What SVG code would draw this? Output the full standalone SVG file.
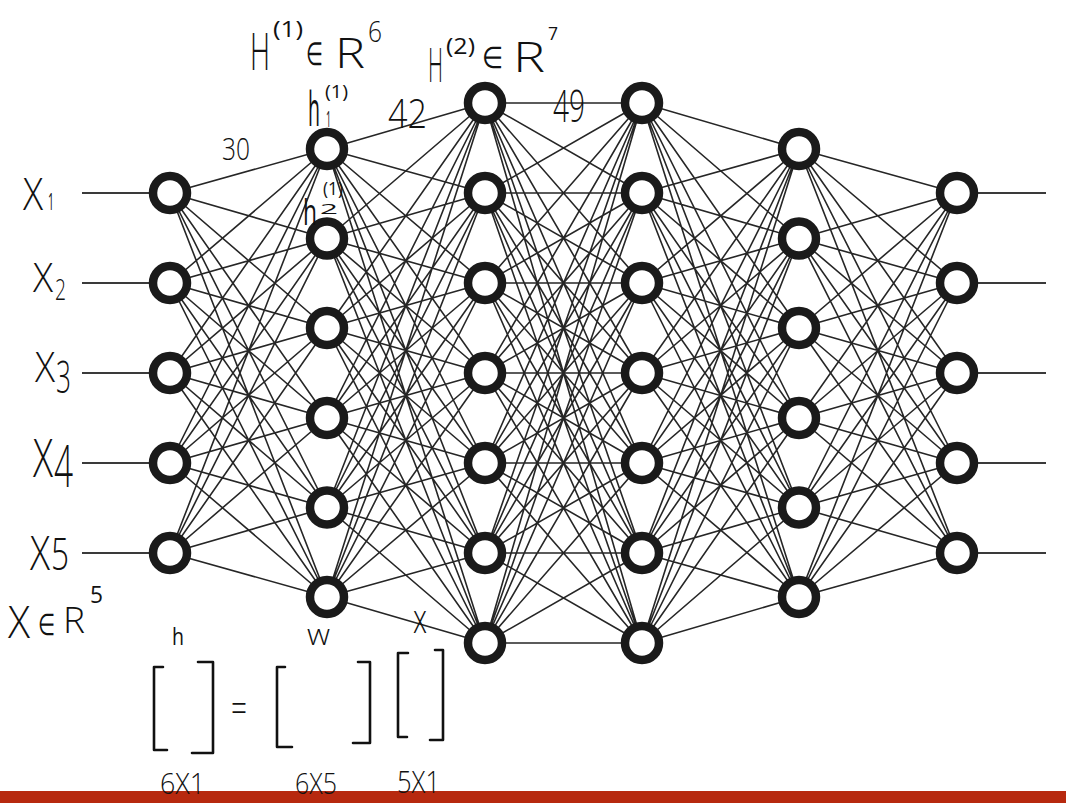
<svg xmlns="http://www.w3.org/2000/svg" width="1066" height="803" viewBox="0 0 1066 803">
<style>
.edge{stroke:#262626;stroke-width:1.6;fill:none}
.io{stroke:#3a3a3a;stroke-width:2;fill:none}
.node{fill:#fff;stroke:#1a1a1a;stroke-width:8.5}
.hw{font-family:"Open Sans","Liberation Sans","DejaVu Sans",sans-serif;font-weight:300;fill:#111}
.sm{font-weight:400}
.br{fill:none;stroke:#111;stroke-width:2.6;stroke-linecap:round;stroke-linejoin:round}
</style>
<rect x="0" y="0" width="1066" height="803" fill="#fff"/>
<g id="connectors">
<path class="io" d="M82 193H170M82 283H170M82 373H170M82 463H170M82 553H170M957 193H1046M957 283H1046M957 373H1046M957 463H1046M957 553H1046"/>
<path class="edge" d="M170 193L327 149M170 193L327 238.5M170 193L327 328M170 193L327 418M170 193L327 507.5M170 193L327 597M170 283L327 149M170 283L327 238.5M170 283L327 328M170 283L327 418M170 283L327 507.5M170 283L327 597M170 373L327 149M170 373L327 238.5M170 373L327 328M170 373L327 418M170 373L327 507.5M170 373L327 597M170 463L327 149M170 463L327 238.5M170 463L327 328M170 463L327 418M170 463L327 507.5M170 463L327 597M170 553L327 149M170 553L327 238.5M170 553L327 328M170 553L327 418M170 553L327 507.5M170 553L327 597"/>
<path class="edge" d="M327 149L485 103M327 149L485 193M327 149L485 283M327 149L485 373M327 149L485 463M327 149L485 553M327 149L485 643M327 238.5L485 103M327 238.5L485 193M327 238.5L485 283M327 238.5L485 373M327 238.5L485 463M327 238.5L485 553M327 238.5L485 643M327 328L485 103M327 328L485 193M327 328L485 283M327 328L485 373M327 328L485 463M327 328L485 553M327 328L485 643M327 418L485 103M327 418L485 193M327 418L485 283M327 418L485 373M327 418L485 463M327 418L485 553M327 418L485 643M327 507.5L485 103M327 507.5L485 193M327 507.5L485 283M327 507.5L485 373M327 507.5L485 463M327 507.5L485 553M327 507.5L485 643M327 597L485 103M327 597L485 193M327 597L485 283M327 597L485 373M327 597L485 463M327 597L485 553M327 597L485 643"/>
<path class="edge" d="M485 103L642 103M485 103L642 193M485 103L642 283M485 103L642 373M485 103L642 463M485 103L642 553M485 103L642 643M485 193L642 103M485 193L642 193M485 193L642 283M485 193L642 373M485 193L642 463M485 193L642 553M485 193L642 643M485 283L642 103M485 283L642 193M485 283L642 283M485 283L642 373M485 283L642 463M485 283L642 553M485 283L642 643M485 373L642 103M485 373L642 193M485 373L642 283M485 373L642 373M485 373L642 463M485 373L642 553M485 373L642 643M485 463L642 103M485 463L642 193M485 463L642 283M485 463L642 373M485 463L642 463M485 463L642 553M485 463L642 643M485 553L642 103M485 553L642 193M485 553L642 283M485 553L642 373M485 553L642 463M485 553L642 553M485 553L642 643M485 643L642 103M485 643L642 193M485 643L642 283M485 643L642 373M485 643L642 463M485 643L642 553M485 643L642 643"/>
<path class="edge" d="M642 103L799 149M642 103L799 238.5M642 103L799 328M642 103L799 418M642 103L799 507.5M642 103L799 597M642 193L799 149M642 193L799 238.5M642 193L799 328M642 193L799 418M642 193L799 507.5M642 193L799 597M642 283L799 149M642 283L799 238.5M642 283L799 328M642 283L799 418M642 283L799 507.5M642 283L799 597M642 373L799 149M642 373L799 238.5M642 373L799 328M642 373L799 418M642 373L799 507.5M642 373L799 597M642 463L799 149M642 463L799 238.5M642 463L799 328M642 463L799 418M642 463L799 507.5M642 463L799 597M642 553L799 149M642 553L799 238.5M642 553L799 328M642 553L799 418M642 553L799 507.5M642 553L799 597M642 643L799 149M642 643L799 238.5M642 643L799 328M642 643L799 418M642 643L799 507.5M642 643L799 597"/>
<path class="edge" d="M799 149L957 193M799 149L957 283M799 149L957 373M799 149L957 463M799 149L957 553M799 238.5L957 193M799 238.5L957 283M799 238.5L957 373M799 238.5L957 463M799 238.5L957 553M799 328L957 193M799 328L957 283M799 328L957 373M799 328L957 463M799 328L957 553M799 418L957 193M799 418L957 283M799 418L957 373M799 418L957 463M799 418L957 553M799 507.5L957 193M799 507.5L957 283M799 507.5L957 373M799 507.5L957 463M799 507.5L957 553M799 597L957 193M799 597L957 283M799 597L957 373M799 597L957 463M799 597L957 553"/>
</g>
<g id="layer1">
<circle id="n1_1" class="node" cx="170" cy="193" r="17"/>
<circle id="n1_2" class="node" cx="170" cy="283" r="17"/>
<circle id="n1_3" class="node" cx="170" cy="373" r="17"/>
<circle id="n1_4" class="node" cx="170" cy="463" r="17"/>
<circle id="n1_5" class="node" cx="170" cy="553" r="17"/>
</g>
<g id="layer2">
<circle id="n2_1" class="node" cx="327" cy="149" r="17"/>
<circle id="n2_2" class="node" cx="327" cy="238.5" r="17"/>
<circle id="n2_3" class="node" cx="327" cy="328" r="17"/>
<circle id="n2_4" class="node" cx="327" cy="418" r="17"/>
<circle id="n2_5" class="node" cx="327" cy="507.5" r="17"/>
<circle id="n2_6" class="node" cx="327" cy="597" r="17"/>
</g>
<g id="layer3">
<circle id="n3_1" class="node" cx="485" cy="103" r="17"/>
<circle id="n3_2" class="node" cx="485" cy="193" r="17"/>
<circle id="n3_3" class="node" cx="485" cy="283" r="17"/>
<circle id="n3_4" class="node" cx="485" cy="373" r="17"/>
<circle id="n3_5" class="node" cx="485" cy="463" r="17"/>
<circle id="n3_6" class="node" cx="485" cy="553" r="17"/>
<circle id="n3_7" class="node" cx="485" cy="643" r="17"/>
</g>
<g id="layer4">
<circle id="n4_1" class="node" cx="642" cy="103" r="17"/>
<circle id="n4_2" class="node" cx="642" cy="193" r="17"/>
<circle id="n4_3" class="node" cx="642" cy="283" r="17"/>
<circle id="n4_4" class="node" cx="642" cy="373" r="17"/>
<circle id="n4_5" class="node" cx="642" cy="463" r="17"/>
<circle id="n4_6" class="node" cx="642" cy="553" r="17"/>
<circle id="n4_7" class="node" cx="642" cy="643" r="17"/>
</g>
<g id="layer5">
<circle id="n5_1" class="node" cx="799" cy="149" r="17"/>
<circle id="n5_2" class="node" cx="799" cy="238.5" r="17"/>
<circle id="n5_3" class="node" cx="799" cy="328" r="17"/>
<circle id="n5_4" class="node" cx="799" cy="418" r="17"/>
<circle id="n5_5" class="node" cx="799" cy="507.5" r="17"/>
<circle id="n5_6" class="node" cx="799" cy="597" r="17"/>
</g>
<g id="layer6">
<circle id="n6_1" class="node" cx="957" cy="193" r="17"/>
<circle id="n6_2" class="node" cx="957" cy="283" r="17"/>
<circle id="n6_3" class="node" cx="957" cy="373" r="17"/>
<circle id="n6_4" class="node" cx="957" cy="463" r="17"/>
<circle id="n6_5" class="node" cx="957" cy="553" r="17"/>
</g>
<rect id="footer-bar" x="0" y="791" width="1066" height="12" fill="#b7290f"/>
<g id="input-labels">
<text class="hw"><tspan x="23" y="210" font-size="44" textLength="20" lengthAdjust="spacingAndGlyphs">X</tspan><tspan class="sm" x="48" y="210" font-size="24" textLength="6" lengthAdjust="spacingAndGlyphs">1</tspan></text>
<text class="hw"><tspan x="33" y="292" font-size="40" textLength="20" lengthAdjust="spacingAndGlyphs">X</tspan><tspan x="55" y="300" font-size="30" textLength="11" lengthAdjust="spacingAndGlyphs">2</tspan></text>
<text class="hw"><tspan x="35" y="382" font-size="42" textLength="20" lengthAdjust="spacingAndGlyphs">X</tspan><tspan x="56" y="393" font-size="44" textLength="15" lengthAdjust="spacingAndGlyphs">3</tspan></text>
<text class="hw"><tspan x="33" y="477" font-size="54" textLength="20" lengthAdjust="spacingAndGlyphs">X</tspan><tspan x="54" y="487" font-size="58" textLength="19" lengthAdjust="spacingAndGlyphs">4</tspan></text>
<text class="hw"><tspan x="30" y="570" font-size="48" textLength="20" lengthAdjust="spacingAndGlyphs">X</tspan><tspan x="51" y="570" font-size="44" textLength="18" lengthAdjust="spacingAndGlyphs">5</tspan></text>
</g>
<g id="x-space-label">
<text class="hw"><tspan x="8" y="638" font-size="44" textLength="22" lengthAdjust="spacingAndGlyphs">X</tspan><tspan x="38" y="635" font-size="30" textLength="17" lengthAdjust="spacingAndGlyphs">∈</tspan><tspan x="63" y="633" font-size="36" textLength="22" lengthAdjust="spacingAndGlyphs">R</tspan><tspan class="sm" x="90" y="603" font-size="24" textLength="13" lengthAdjust="spacingAndGlyphs">5</tspan></text>
</g>
<g id="h1-space-label">
<text class="hw"><tspan x="250" y="70" font-size="52" textLength="20" lengthAdjust="spacingAndGlyphs">H</tspan><tspan class="sm" x="273" y="37" font-size="22" textLength="30" lengthAdjust="spacingAndGlyphs">(1)</tspan><tspan x="306" y="65" font-size="32" textLength="17" lengthAdjust="spacingAndGlyphs">∈</tspan><tspan x="335" y="68" font-size="42" textLength="30" lengthAdjust="spacingAndGlyphs">R</tspan><tspan x="368" y="42" font-size="30" textLength="14" lengthAdjust="spacingAndGlyphs">6</tspan></text>
</g>
<g id="h2-space-label">
<text class="hw"><tspan x="428" y="82" font-size="48" textLength="15" lengthAdjust="spacingAndGlyphs">H</tspan><tspan class="sm" x="446" y="54" font-size="22" textLength="29" lengthAdjust="spacingAndGlyphs">(2)</tspan><tspan x="482" y="68" font-size="30" textLength="21" lengthAdjust="spacingAndGlyphs">∈</tspan><tspan x="513" y="72" font-size="42" textLength="32" lengthAdjust="spacingAndGlyphs">R</tspan><tspan class="sm" x="548" y="40" font-size="18" textLength="10" lengthAdjust="spacingAndGlyphs">7</tspan></text>
</g>
<g id="neuron-labels">
<text class="hw sm"><tspan x="308" y="126" font-size="48" textLength="12" lengthAdjust="spacingAndGlyphs">h</tspan><tspan x="326" y="127" font-size="21" textLength="5" lengthAdjust="spacingAndGlyphs">1</tspan><tspan x="325" y="98" font-size="18" textLength="23" lengthAdjust="spacingAndGlyphs">(1)</tspan></text>
<text class="hw sm"><tspan x="303" y="225" font-size="36" textLength="14" lengthAdjust="spacingAndGlyphs">h</tspan><tspan x="320" y="214" font-size="14" textLength="18" lengthAdjust="spacingAndGlyphs">2</tspan><tspan x="323" y="195" font-size="18" textLength="20" lengthAdjust="spacingAndGlyphs">(1)</tspan></text>
</g>
<g id="edge-counts">
<text class="hw" x="222" y="160" font-size="32" textLength="28" lengthAdjust="spacingAndGlyphs">30</text>
<text class="hw" x="388" y="128" font-size="40" textLength="39" lengthAdjust="spacingAndGlyphs">42</text>
<text class="hw" x="553" y="122" font-size="44" textLength="32" lengthAdjust="spacingAndGlyphs">49</text>
</g>
<g id="equation">
<text class="hw sm" x="172" y="645" font-size="24" textLength="12" lengthAdjust="spacingAndGlyphs">h</text>
<text class="hw" x="307" y="645" font-size="30" textLength="23" lengthAdjust="spacingAndGlyphs">w</text>
<text class="hw" x="413" y="633" font-size="40" textLength="14" lengthAdjust="spacingAndGlyphs">x</text>
<polyline class="br" points="163,667 154,667 154,750 167,750"/>
<polyline class="br" points="198,662 213,662 213,753 192,753"/>
<text class="hw" x="231" y="722" font-size="40" textLength="16" lengthAdjust="spacingAndGlyphs">=</text>
<polyline class="br" points="285,667 277,667 277,747 292,747"/>
<polyline class="br" points="358,662 370,662 370,743 353,743"/>
<polyline class="br" points="408,653 398,653 398,737 407,737"/>
<polyline class="br" points="435,650 443,650 443,740 430,740"/>
<text class="hw" x="160" y="794" font-size="30" textLength="45" lengthAdjust="spacingAndGlyphs">6X1</text>
<text class="hw" x="295" y="794" font-size="30" textLength="42" lengthAdjust="spacingAndGlyphs">6X5</text>
<text class="hw" x="397" y="793" font-size="31" textLength="43" lengthAdjust="spacingAndGlyphs">5X1</text>
</g>
</svg>
